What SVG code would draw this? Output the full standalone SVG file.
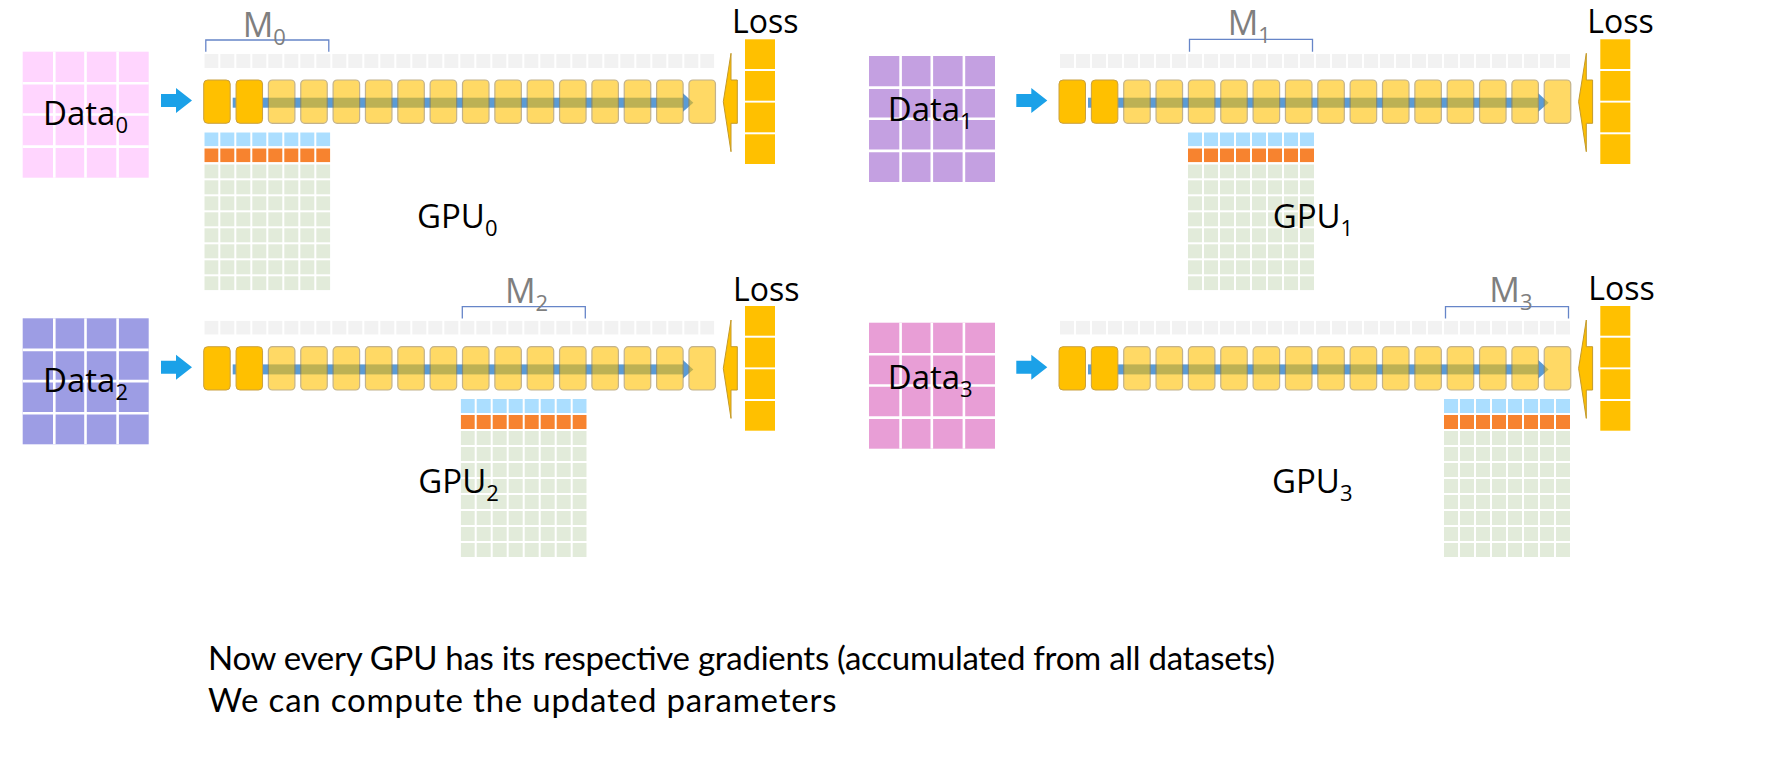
<svg xmlns="http://www.w3.org/2000/svg" xmlns:xlink="http://www.w3.org/1999/xlink" width="1786" height="757" viewBox="0 0 1786 757">
<style>
.lbl{font-family:"Open Sans","Liberation Sans",sans-serif;font-size:33px;fill:#000}
.loss{font-family:"Open Sans","Liberation Sans",sans-serif;font-size:32px;fill:#000}
.m{font-family:"Open Sans","Liberation Sans",sans-serif;font-size:34px;fill:#7F7F7F}
.sub{font-size:22px}
.note{font-family:Lato,"Liberation Sans",sans-serif;font-size:33px;fill:#000}
.gold{fill:#FFC000;stroke:#C9A040;stroke-width:1}
.light{fill:#FFC000;stroke:#9C8040;stroke-width:1.2}
.bracket{fill:none;stroke:#6685C8;stroke-width:1.3}
.dline{stroke:#fff;stroke-width:2.6}
</style>
<defs>
<pattern id="pGray" width="16" height="16" patternUnits="userSpaceOnUse"><rect width="14" height="14" fill="#F2F2F2"/></pattern>
<pattern id="pBlue" width="16" height="16" patternUnits="userSpaceOnUse"><rect width="14" height="14" fill="#ABDEFF"/></pattern>
<pattern id="pOrange" width="16" height="16" patternUnits="userSpaceOnUse"><rect width="14" height="14" fill="#F7832F"/></pattern>
<pattern id="pGreen" width="16" height="16" patternUnits="userSpaceOnUse"><rect width="14" height="14" fill="#E2EBDA"/></pattern>
<g id="grad">
<rect x="0" y="0" width="126" height="14" fill="url(#pBlue)"/>
<rect x="0" y="16" width="126" height="14" fill="url(#pOrange)"/>
<rect x="0" y="32" width="126" height="126" fill="url(#pGreen)"/>
</g>
<rect id="strip" x="0" y="0" width="510" height="14" fill="url(#pGray)"/>
<g id="dgrid">
<line class="dline" x1="31.6" y1="0" x2="31.6" y2="126"/>
<line class="dline" x1="62.8" y1="0" x2="62.8" y2="126"/>
<line class="dline" x1="94.9" y1="0" x2="94.9" y2="126"/>
<line class="dline" x1="0" y1="31.6" x2="126" y2="31.6"/>
<line class="dline" x1="0" y1="62.8" x2="126" y2="62.8"/>
<line class="dline" x1="0" y1="94.9" x2="126" y2="94.9"/>
</g>
<g id="boxes">
<rect class="gold" x="0" y="0" width="26.5" height="43.3" rx="4"/>
<rect class="gold" x="32.35" y="0" width="26.5" height="43.3" rx="4"/>
<g opacity="0.6">
<rect class="light" x="64.7" y="0" width="26.5" height="43.3" rx="4"/>
<rect class="light" x="97.05" y="0" width="26.5" height="43.3" rx="4"/>
<rect class="light" x="129.4" y="0" width="26.5" height="43.3" rx="4"/>
<rect class="light" x="161.75" y="0" width="26.5" height="43.3" rx="4"/>
<rect class="light" x="194.1" y="0" width="26.5" height="43.3" rx="4"/>
<rect class="light" x="226.45" y="0" width="26.5" height="43.3" rx="4"/>
<rect class="light" x="258.8" y="0" width="26.5" height="43.3" rx="4"/>
<rect class="light" x="291.15" y="0" width="26.5" height="43.3" rx="4"/>
<rect class="light" x="323.5" y="0" width="26.5" height="43.3" rx="4"/>
<rect class="light" x="355.85" y="0" width="26.5" height="43.3" rx="4"/>
<rect class="light" x="388.2" y="0" width="26.5" height="43.3" rx="4"/>
<rect class="light" x="420.55" y="0" width="26.5" height="43.3" rx="4"/>
<rect class="light" x="452.9" y="0" width="26.5" height="43.3" rx="4"/>
<rect class="light" x="485.25" y="0" width="26.5" height="43.3" rx="4"/>
</g>
</g>
<g id="fwd">
<rect x="29" y="17.7" width="450.3" height="10" fill="#5B9BD5"/>
<polygon points="479.3,13.3 489.6,22.7 479.3,31.7" fill="#5B9BD5"/>
</g>
<polygon id="inarrow" points="-42.7,14 -27.7,14 -27.7,8 -11.7,20.5 -27.7,33 -27.7,27 -42.7,27" fill="#1BA1E8"/>
<polygon id="back" points="533.6,0 527.3,0 527.3,-26.7 519.6,21.7 527.3,71.7 527.3,43.3 533.6,43.3" fill="#FFC000" stroke="#C49A2A" stroke-width="1"/>
<g id="losscol" fill="#FFC000">
<rect x="541.3" y="-40.7" width="30" height="29.7"/>
<rect x="541.3" y="-9" width="30" height="29.7"/>
<rect x="541.3" y="22.6" width="30" height="29.7"/>
<rect x="541.3" y="54.3" width="30" height="29.7"/>
</g>
</defs>

<g id="data0">
<rect x="22.7" y="51.7" width="126" height="126" fill="#FFD5FE"/>
<use xlink:href="#dgrid" href="#dgrid" x="22.7" y="51.7"/>
<text class="lbl" x="43" y="125">Data<tspan class="sub" dy="8">0</tspan></text>
</g>
<g id="data1">
<rect x="869" y="56" width="126" height="126" fill="#C4A0E1"/>
<use xlink:href="#dgrid" href="#dgrid" x="869" y="56"/>
<text class="lbl" x="887.7" y="120.7">Data<tspan class="sub" dy="8">1</tspan></text>
</g>
<g id="data2">
<rect x="22.7" y="318.3" width="126" height="126" fill="#9D9DE4"/>
<use xlink:href="#dgrid" href="#dgrid" x="22.7" y="318.3"/>
<text class="lbl" x="43" y="391.7">Data<tspan class="sub" dy="8">2</tspan></text>
</g>
<g id="data3">
<rect x="869" y="322.7" width="126" height="126" fill="#E89ED6"/>
<use xlink:href="#dgrid" href="#dgrid" x="869" y="322.7"/>
<text class="lbl" x="887.7" y="388.5">Data<tspan class="sub" dy="8">3</tspan></text>
</g>

<g id="gpu0" transform="translate(203.7,80)">
<use xlink:href="#strip" href="#strip" x="0.6" y="-26"/>
<path class="bracket" d="M2.1,-28.3 V-40 H125.1 V-28.3"/>
<use xlink:href="#grad" href="#grad" x="0.6" y="52.3"/>
<use xlink:href="#losscol" href="#losscol"/>
</g>
<g id="gpu1" transform="translate(1059,80)">
<use xlink:href="#strip" href="#strip" x="1" y="-26"/>
<path class="bracket" d="M130.5,-28.3 V-40.7 H253.5 V-28.3"/>
<use xlink:href="#grad" href="#grad" x="129" y="52.3"/>
<use xlink:href="#losscol" href="#losscol"/>
</g>
<g id="gpu2" transform="translate(203.7,346.7)">
<use xlink:href="#strip" href="#strip" x="0.6" y="-26"/>
<path class="bracket" d="M258.6,-28.3 V-40 H381.6 V-28.3"/>
<use xlink:href="#grad" href="#grad" x="257" y="52.3"/>
<use xlink:href="#losscol" href="#losscol"/>
</g>
<g id="gpu3" transform="translate(1059,346.7)">
<use xlink:href="#strip" href="#strip" x="1" y="-26"/>
<path class="bracket" d="M386.5,-28.3 V-40 H509.5 V-28.3"/>
<use xlink:href="#grad" href="#grad" x="385" y="52.3"/>
<use xlink:href="#losscol" href="#losscol"/>
</g>

<g id="connectors">
<g transform="translate(203.7,80)">
<use xlink:href="#inarrow" href="#inarrow"/>
<use xlink:href="#fwd" href="#fwd"/>
<use xlink:href="#boxes" href="#boxes"/>
<use xlink:href="#back" href="#back"/>
</g>
<g transform="translate(1059,80)">
<use xlink:href="#inarrow" href="#inarrow"/>
<use xlink:href="#fwd" href="#fwd"/>
<use xlink:href="#boxes" href="#boxes"/>
<use xlink:href="#back" href="#back"/>
</g>
<g transform="translate(203.7,346.7)">
<use xlink:href="#inarrow" href="#inarrow"/>
<use xlink:href="#fwd" href="#fwd"/>
<use xlink:href="#boxes" href="#boxes"/>
<use xlink:href="#back" href="#back"/>
</g>
<g transform="translate(1059,346.7)">
<use xlink:href="#inarrow" href="#inarrow"/>
<use xlink:href="#fwd" href="#fwd"/>
<use xlink:href="#boxes" href="#boxes"/>
<use xlink:href="#back" href="#back"/>
</g>
</g>

<g id="labels">
<text class="m" x="242.7" y="36.7">M<tspan class="sub" dy="8">0</tspan></text>
<text class="m" x="1227.7" y="35">M<tspan class="sub" dy="8">1</tspan></text>
<text class="m" x="505" y="303.3">M<tspan class="sub" dy="8">2</tspan></text>
<text class="m" x="1489.3" y="301.7">M<tspan class="sub" dy="8">3</tspan></text>
<text class="loss" x="732" y="33">Loss</text>
<text class="loss" x="1587.3" y="33">Loss</text>
<text class="loss" x="733" y="301">Loss</text>
<text class="loss" x="1588.3" y="300">Loss</text>
<text class="lbl" x="417" y="227.7">GPU<tspan class="sub" dy="8">0</tspan></text>
<text class="lbl" x="1272.7" y="227.7">GPU<tspan class="sub" dy="8">1</tspan></text>
<text class="lbl" x="418.3" y="493.3">GPU<tspan class="sub" dy="8">2</tspan></text>
<text class="lbl" x="1272" y="493.3">GPU<tspan class="sub" dy="8">3</tspan></text>
</g>

<g id="note">
<text class="note" x="208" y="670" textLength="1067" lengthAdjust="spacing">Now every GPU has its respective gradients (accumulated from all datasets)</text>
<text class="note" x="208" y="712" letter-spacing="0.8">We can compute the updated parameters</text>
</g>
</svg>
